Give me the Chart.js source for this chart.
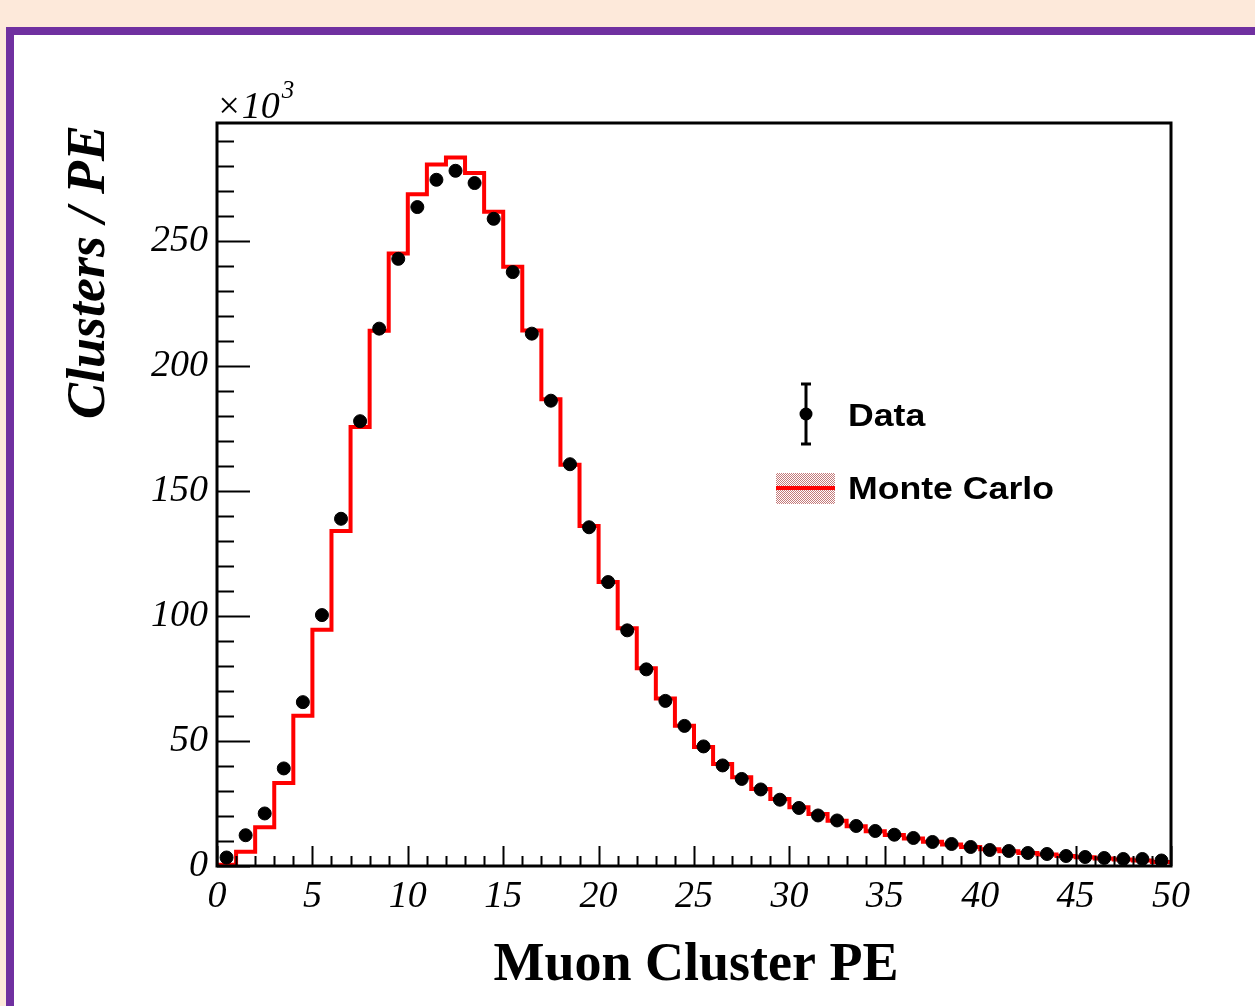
<!DOCTYPE html>
<html>
<head>
<meta charset="utf-8">
<title>Muon Cluster PE</title>
<script src="https://cdn.jsdelivr.net/npm/chart.js@4.4.1/dist/chart.umd.min.js"></script>
<style>
  html, body { margin: 0; padding: 0; overflow: hidden; background: #fde9da; }
  #page { position: absolute; left: 6px; top: 27px; width: 1300px; height: 1100px;
          background: #ffffff; border-left: 8px solid #7030a0; border-top: 8px solid #7030a0; }
  #chart { position: absolute; left: 0; top: 0; }
</style>
</head>
<body>
<div id="page"></div>
<canvas id="chart" width="1255" height="1006"></canvas>
<script>
// histogram binning (Muon Cluster PE), 50 bins of 1 PE
const binLow = 0;
const binWidth = 1;

// Data, clusters per PE (x10^3), one value per bin
const dataValues = [3.4, 12.3, 21.0, 39.0, 65.5, 100.3, 138.8, 177.8, 214.8, 242.7,
  263.4, 274.3, 277.9, 273.0, 258.7, 237.4, 212.8, 186.0, 160.6, 135.4,
  113.5, 94.2, 78.6, 66.0, 56.0, 47.8, 40.2, 34.8, 30.6, 26.5,
  23.2, 20.2, 18.2, 16.0, 14.0, 12.5, 11.2, 9.6, 8.8, 7.6,
  6.4, 6.0, 5.2, 4.8, 4.0, 3.6, 3.2, 2.8, 2.8, 2.2];

// Monte Carlo, clusters per PE (x10^3)
const mcValues = [0.5, 5.7, 15.5, 33.2, 60.1, 94.4, 133.9, 175.5, 214.0, 244.8,
  268.5, 280.4, 283.2, 277.0, 261.5, 239.5, 214.1, 186.6, 160.4, 135.9,
  113.5, 95.0, 79.0, 67.0, 56.1, 47.6, 40.8, 35.5, 30.8, 26.8,
  23.5, 20.8, 18.1, 15.9, 13.9, 12.4, 11.0, 9.7, 8.6, 7.6,
  6.7, 5.9, 5.2, 4.6, 4.0, 3.5, 3.0, 2.6, 2.2, 1.6];

const xTickLabels = [0, 5, 10, 15, 20, 25, 30, 35, 40, 45, 50];
const yTickLabels = [0, 50, 100, 150, 200, 250];
const yMax = 297;

const xTitle = 'Muon Cluster PE';
const yTitle = 'Clusters / PE';
const legendData = 'Data';
const legendMC = 'Monte Carlo';

// points for the chart
const dataPoints = dataValues.map((v, i) => ({ x: binLow + (i + 0.5) * binWidth, y: v }));
const mcPoints = mcValues.map((v, i) => ({ x: binLow + i * binWidth, y: v }));
mcPoints.push({ x: binLow + mcValues.length * binWidth, y: mcValues[mcValues.length - 1] });

const serif = '"Liberation Serif", "Times New Roman", serif';
const sans = '"Liberation Sans", Arial, sans-serif';

// draw text stretched a bit horizontally (ROOT's Helvetica runs wide)
function wideText(ctx, text, x, y, sx) {
  ctx.save();
  ctx.translate(x, y);
  ctx.scale(sx, 1);
  ctx.fillText(text, 0, 0);
  ctx.restore();
}

// ROOT-like frame, inner ticks, titles and legend
const rootStyle = {
  id: 'rootStyle',
  afterDraw(chart) {
    const ctx = chart.ctx;
    const area = chart.chartArea;
    const xs = chart.scales.x;
    const ys = chart.scales.y;
    ctx.save();

    // ticks
    ctx.strokeStyle = '#000';
    ctx.lineWidth = 2;
    ctx.beginPath();
    for (let v = 0; v <= yMax; v += 10) {
      const y = Math.round(ys.getPixelForValue(v)) + 0.5;
      const len = v % 50 === 0 ? 33 : 17;
      ctx.moveTo(area.left, y);
      ctx.lineTo(area.left + len, y);
    }
    for (let v = 0; v <= 50; v += 1) {
      const x = Math.round(xs.getPixelForValue(v)) + 0.5;
      const len = v % 5 === 0 ? 20 : 10;
      ctx.moveTo(x, area.bottom);
      ctx.lineTo(x, area.bottom - len);
    }
    ctx.stroke();

    // frame
    ctx.lineWidth = 3;
    ctx.strokeRect(area.left, area.top, area.right - area.left, area.bottom - area.top);

    // exponent
    ctx.fillStyle = '#000';
    ctx.textBaseline = 'alphabetic';
    ctx.textAlign = 'left';
    ctx.font = 'italic 38px ' + serif;
    ctx.fillText('\u00d710', area.left - 1, 118);
    const w = ctx.measureText('\u00d710').width;
    ctx.font = 'italic 25px ' + serif;
    ctx.fillText('3', area.left + w + 1, 98);

    // axis titles
    ctx.font = 'bold 54px ' + serif;
    ctx.textAlign = 'center';
    ctx.fillText(xTitle, 696, 980);

    ctx.save();
    ctx.translate(104, 272);
    ctx.rotate(-Math.PI / 2);
    ctx.font = 'italic bold 54px ' + serif;
    ctx.fillText(yTitle, 0, 0);
    ctx.restore();

    // legend
    ctx.lineWidth = 3;
    ctx.beginPath();
    ctx.moveTo(806, 384); ctx.lineTo(806, 444);
    ctx.moveTo(801, 384); ctx.lineTo(811, 384);
    ctx.moveTo(801, 444); ctx.lineTo(811, 444);
    ctx.stroke();
    ctx.beginPath();
    ctx.arc(806, 414, 6.5, 0, Math.PI * 2);
    ctx.fill();

    const pc = document.createElement('canvas');
    pc.width = 2; pc.height = 2;
    const p = pc.getContext('2d');
    p.fillStyle = '#ffffff'; p.fillRect(0, 0, 2, 2);
    p.fillStyle = '#c47a7a'; p.fillRect(0, 0, 1, 1); p.fillRect(1, 1, 1, 1);
    ctx.fillStyle = ctx.createPattern(pc, 'repeat');
    ctx.fillRect(776, 473, 59, 31);
    ctx.strokeStyle = '#ff0000';
    ctx.lineWidth = 4;
    ctx.beginPath();
    ctx.moveTo(776, 488); ctx.lineTo(835, 488);
    ctx.stroke();

    ctx.fillStyle = '#000';
    ctx.textAlign = 'left';
    ctx.font = 'bold 31px ' + sans;
    wideText(ctx, legendData, 848, 426, 1.15);
    wideText(ctx, legendMC, 848, 499, 1.15);
    ctx.restore();
  }
};

new Chart(document.getElementById('chart'), {
  type: 'scatter',
  data: {
    datasets: [
      {
        label: legendData,
        data: dataPoints,
        order: 0,
        backgroundColor: '#000000',
        borderColor: '#000000',
        pointRadius: 6.5,
        pointHoverRadius: 6.5,
        showLine: false
      },
      {
        label: legendMC,
        data: mcPoints,
        order: 1,
        type: 'line',
        stepped: 'before',
        borderColor: '#ff0000',
        borderWidth: 4,
        pointRadius: 0,
        fill: false
      }
    ]
  },
  options: {
    responsive: false,
    animation: false,
    devicePixelRatio: 1,
    layout: { padding: { left: 0, top: 123, right: 84, bottom: 0 } },
    plugins: { legend: { display: false }, tooltip: { enabled: false } },
    scales: {
      x: {
        type: 'linear',
        min: 0,
        max: 50,
        grid: { display: false, drawTicks: false },
        border: { display: false },
        afterBuildTicks: s => { s.ticks = xTickLabels.map(v => ({ value: v })); },
        afterFit: s => { s.height = 140; },
        ticks: {
          color: '#000',
          padding: 8,
          maxRotation: 0,
          autoSkip: false,
          font: { family: serif, size: 38, style: 'italic' }
        }
      },
      y: {
        type: 'linear',
        min: 0,
        max: yMax,
        grid: { display: false, drawTicks: false },
        border: { display: false },
        afterBuildTicks: s => { s.ticks = yTickLabels.map(v => ({ value: v })); },
        afterFit: s => { s.width = 217; },
        ticks: {
          color: '#000',
          padding: 9,
          autoSkip: false,
          font: { family: serif, size: 38, style: 'italic' }
        }
      }
    }
  },
  plugins: [rootStyle]
});
</script>
</body>
</html>
